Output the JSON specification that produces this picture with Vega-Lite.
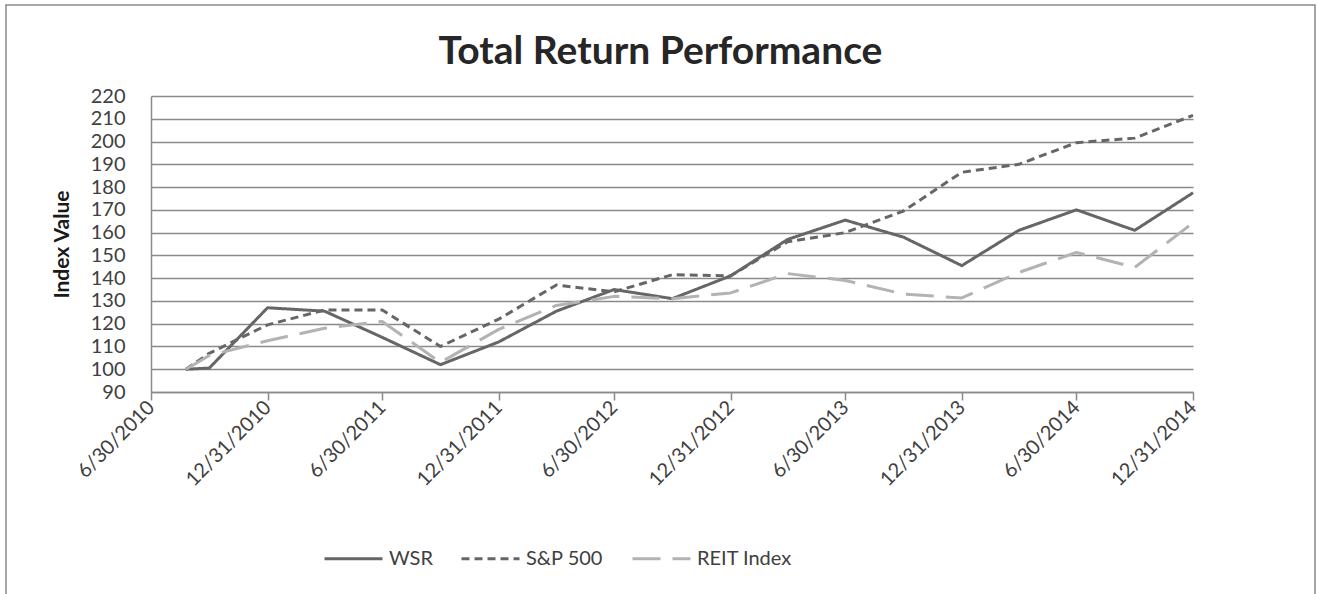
{
  "$schema": "https://vega.github.io/schema/vega-lite/v6.json",
  "width": 1309,
  "height": 590,
  "autosize": {"type": "none"},
  "padding": {"left": 6, "top": 5, "right": 2, "bottom": 0},
  "background": "white",
  "config": {
    "view": {"stroke": "#8a8a8a", "strokeWidth": 1.5},
    "font": "Lato"
  },
  "title": {
    "text": "Total Return Performance",
    "font": "Lato",
    "fontSize": 39,
    "fontWeight": "bold",
    "color": "#262626",
    "anchor": "middle",
    "offset": -67
  },
  "data": {
    "values": [
      {"date": "2010-08-24", "series": "WSR", "value": 100},
      {"date": "2010-09-30", "series": "WSR", "value": 100.5},
      {"date": "2010-12-31", "series": "WSR", "value": 127},
      {"date": "2011-03-31", "series": "WSR", "value": 125.5},
      {"date": "2011-06-30", "series": "WSR", "value": 114},
      {"date": "2011-09-30", "series": "WSR", "value": 102},
      {"date": "2011-12-31", "series": "WSR", "value": 112},
      {"date": "2012-03-31", "series": "WSR", "value": 125.5},
      {"date": "2012-06-30", "series": "WSR", "value": 135},
      {"date": "2012-09-30", "series": "WSR", "value": 131},
      {"date": "2012-12-31", "series": "WSR", "value": 141},
      {"date": "2013-03-31", "series": "WSR", "value": 157},
      {"date": "2013-06-30", "series": "WSR", "value": 165.5},
      {"date": "2013-09-30", "series": "WSR", "value": 158},
      {"date": "2013-12-31", "series": "WSR", "value": 145.5},
      {"date": "2014-03-31", "series": "WSR", "value": 161},
      {"date": "2014-06-30", "series": "WSR", "value": 170},
      {"date": "2014-09-30", "series": "WSR", "value": 161},
      {"date": "2014-12-31", "series": "WSR", "value": 177.5},
      {"date": "2010-08-24", "series": "S&P 500", "value": 100},
      {"date": "2010-09-30", "series": "S&P 500", "value": 107},
      {"date": "2010-12-31", "series": "S&P 500", "value": 119.5},
      {"date": "2011-03-31", "series": "S&P 500", "value": 126},
      {"date": "2011-06-30", "series": "S&P 500", "value": 126},
      {"date": "2011-09-30", "series": "S&P 500", "value": 110},
      {"date": "2011-12-31", "series": "S&P 500", "value": 122},
      {"date": "2012-03-31", "series": "S&P 500", "value": 137},
      {"date": "2012-06-30", "series": "S&P 500", "value": 134},
      {"date": "2012-09-30", "series": "S&P 500", "value": 141.5},
      {"date": "2012-12-31", "series": "S&P 500", "value": 141},
      {"date": "2013-03-31", "series": "S&P 500", "value": 156},
      {"date": "2013-06-30", "series": "S&P 500", "value": 160},
      {"date": "2013-09-30", "series": "S&P 500", "value": 169.5},
      {"date": "2013-12-31", "series": "S&P 500", "value": 186.5},
      {"date": "2014-03-31", "series": "S&P 500", "value": 190},
      {"date": "2014-06-30", "series": "S&P 500", "value": 199.5},
      {"date": "2014-09-30", "series": "S&P 500", "value": 201.5},
      {"date": "2014-12-31", "series": "S&P 500", "value": 211.5},
      {"date": "2010-08-24", "series": "REIT Index", "value": 100},
      {"date": "2010-09-30", "series": "REIT Index", "value": 106},
      {"date": "2010-12-31", "series": "REIT Index", "value": 112.5},
      {"date": "2011-03-31", "series": "REIT Index", "value": 118},
      {"date": "2011-06-30", "series": "REIT Index", "value": 121},
      {"date": "2011-09-30", "series": "REIT Index", "value": 103},
      {"date": "2011-12-31", "series": "REIT Index", "value": 117.5},
      {"date": "2012-03-31", "series": "REIT Index", "value": 128},
      {"date": "2012-06-30", "series": "REIT Index", "value": 132},
      {"date": "2012-09-30", "series": "REIT Index", "value": 131},
      {"date": "2012-12-31", "series": "REIT Index", "value": 133.5},
      {"date": "2013-03-31", "series": "REIT Index", "value": 142},
      {"date": "2013-06-30", "series": "REIT Index", "value": 139},
      {"date": "2013-09-30", "series": "REIT Index", "value": 133},
      {"date": "2013-12-31", "series": "REIT Index", "value": 131.3},
      {"date": "2014-03-31", "series": "REIT Index", "value": 142.5},
      {"date": "2014-06-30", "series": "REIT Index", "value": 151.3},
      {"date": "2014-09-30", "series": "REIT Index", "value": 144.7},
      {"date": "2014-12-31", "series": "REIT Index", "value": 164.3}
    ]
  },
  "mark": {"type": "line", "strokeWidth": 3, "strokeJoin": "round"},
  "encoding": {
    "x": {
      "field": "date",
      "type": "temporal",
      "scale": {
        "type": "utc",
        "domain": [
          {"year": 2010, "month": 6, "date": 30, "utc": true},
          {"year": 2014, "month": 12, "date": 31, "utc": true}
        ],
        "range": [145, 1187]
      },
      "axis": {
        "title": null,
        "values": [
          {"year": 2010, "month": 6, "date": 30, "utc": true},
          {"year": 2010, "month": 12, "date": 31, "utc": true},
          {"year": 2011, "month": 6, "date": 30, "utc": true},
          {"year": 2011, "month": 12, "date": 31, "utc": true},
          {"year": 2012, "month": 6, "date": 30, "utc": true},
          {"year": 2012, "month": 12, "date": 31, "utc": true},
          {"year": 2013, "month": 6, "date": 30, "utc": true},
          {"year": 2013, "month": 12, "date": 31, "utc": true},
          {"year": 2014, "month": 6, "date": 30, "utc": true},
          {"year": 2014, "month": 12, "date": 31, "utc": true}
        ],
        "format": "%-m/%-d/%Y",
        "labelAngle": -45,
        "labelAlign": "right",
        "labelBaseline": "middle",
        "labelFont": "Lato",
        "labelFontSize": 20,
        "labelColor": "#404040",
        "labelPadding": 4,
        "labelOverlap": false,
        "labelFlush": false,
        "offset": -203,
        "grid": false,
        "domainColor": "#8a8a8a",
        "domainWidth": 1.5,
        "tickColor": "#8a8a8a",
        "tickWidth": 1.5,
        "tickSize": 8
      }
    },
    "y": {
      "field": "value",
      "type": "quantitative",
      "scale": {"domain": [90, 220], "range": [387, 91], "nice": false, "zero": false},
      "axis": {
        "title": "Index Value",
        "titleFont": "Lato",
        "titleFontSize": 21,
        "titleFontWeight": "bold",
        "titleColor": "#1a1a1a",
        "titlePadding": 18,
        "values": [90, 100, 110, 120, 130, 140, 150, 160, 170, 180, 190, 200, 210, 220],
        "labelFont": "Lato",
        "labelFontSize": 20,
        "labelColor": "#404040",
        "labelPadding": 26,
        "ticks": false,
        "offset": -145,
        "grid": true,
        "gridColor": "#8a8a8a",
        "gridWidth": 1.5,
        "domainColor": "#8a8a8a",
        "domainWidth": 1.5
      }
    },
    "color": {
      "field": "series",
      "type": "nominal",
      "scale": {"domain": ["WSR", "S&P 500", "REIT Index"], "range": ["#666666", "#666666", "#b3b3b3"]},
      "legend": {
        "title": null,
        "orient": "none",
        "legendX": 317,
        "legendY": 523,
        "direction": "horizontal",
        "symbolType": "stroke",
        "symbolSize": 3364,
        "symbolStrokeWidth": 3,
        "labelFont": "Lato",
        "labelFontSize": 20,
        "labelColor": "#404040",
        "labelOffset": 5,
        "columnPadding": 22,
        "padding": 0
      }
    },
    "strokeDash": {
      "field": "series",
      "type": "nominal",
      "scale": {"domain": ["WSR", "S&P 500", "REIT Index"], "range": [[1, 0], [8, 5], [28, 12]]},
      "legend": {
        "title": null,
        "orient": "none",
        "legendX": 317,
        "legendY": 523,
        "direction": "horizontal",
        "symbolType": "stroke",
        "symbolSize": 3364,
        "symbolStrokeWidth": 3,
        "labelFont": "Lato",
        "labelFontSize": 20,
        "labelColor": "#404040",
        "labelOffset": 5,
        "columnPadding": 22,
        "padding": 0
      }
    }
  }
}
